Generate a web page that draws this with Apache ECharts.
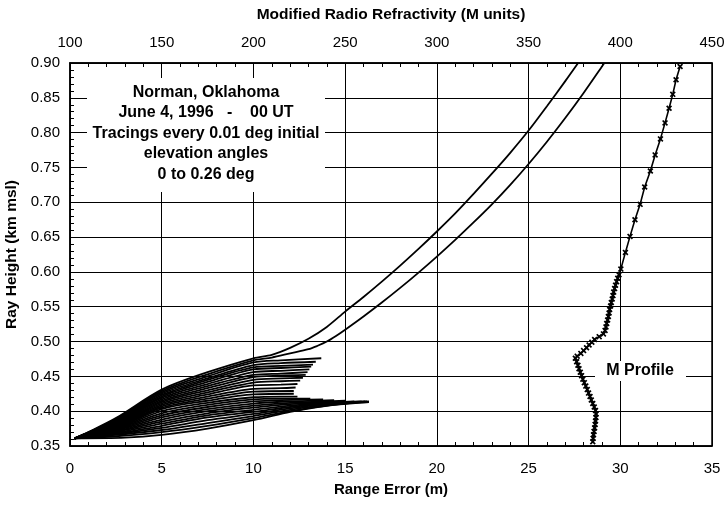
<!DOCTYPE html>
<html>
<head>
<meta charset="utf-8">
<script src="https://cdn.jsdelivr.net/npm/echarts@6/dist/echarts.min.js"></script>
<style>
  html, body { margin: 0; padding: 0; background: #fff; }
  #main { width: 725px; height: 505px; }
</style>
</head>
<body>
<div id="main"></div>
<script type="text/javascript">
// ray tracings, [range error (m), ray height (km)], one array per initial elevation (0.00 .. 0.26 deg)
var ray26 = [[0.25,0.361],[1,0.370],[2.5,0.390],[5,0.431],[7.5,0.456],[10,0.476],[11,0.481],[12,0.491],[13,0.504],[14,0.521],[15,0.543],[16,0.564],[17,0.586],[18,0.609],[19,0.633],[20,0.658],[21,0.684],[22,0.712],[23,0.741],[24,0.771],[25,0.803],[26,0.838],[27,0.874],[27.7,0.900]];
var ray25 = [[0.25,0.361],[1,0.369],[2.5,0.389],[5,0.429],[7.5,0.453],[10,0.473],[11,0.477],[12,0.483],[13,0.489],[13.5,0.494],[14,0.500],[14.5,0.508],[15,0.517],[16,0.536],[17,0.556],[18,0.577],[19,0.599],[20,0.622],[21,0.646],[22,0.671],[23,0.697],[24,0.725],[25,0.755],[26,0.787],[27,0.821],[28,0.857],[29,0.895],[29.13,0.900]];
var ray24 = [[0.25,0.361],[2.5,0.388],[5,0.427],[7.5,0.450],[10,0.470],[11.5,0.473],[13.7,0.476]];
var ray23 = [[0.25,0.361],[2.5,0.387],[5,0.425],[7.5,0.447],[10,0.466],[11.5,0.469],[13.4,0.471]];
var ray22 = [[0.25,0.361],[2.5,0.386],[5,0.423],[7.5,0.445],[10,0.463],[11.5,0.465],[13.25,0.467]];
var ray21 = [[0.25,0.361],[2.5,0.385],[5,0.421],[7.5,0.442],[10,0.460],[11.5,0.462],[13.15,0.464]];
var ray20 = [[0.25,0.361],[2.5,0.384],[5,0.419],[7.5,0.439],[10,0.456],[11.5,0.458],[13.05,0.460]];
var ray19 = [[0.25,0.361],[2.5,0.383],[5,0.417],[7.5,0.436],[10,0.452],[11.5,0.454],[12.95,0.456]];
var ray18 = [[0.25,0.361],[2.5,0.382],[5,0.415],[7.5,0.433],[10,0.449],[11.5,0.451],[12.85,0.452]];
var ray17 = [[0.25,0.361],[2.5,0.381],[5,0.413],[7.5,0.430],[10,0.445],[11.5,0.447],[12.7,0.448]];
var ray16 = [[0.25,0.361],[2.5,0.380],[5,0.411],[7.5,0.427],[10,0.441],[11.5,0.443],[12.55,0.444]];
var ray15 = [[0.25,0.361],[2.5,0.379],[5,0.409],[7.5,0.424],[10,0.437],[11.5,0.438],[12.4,0.439]];
var ray14 = [[0.25,0.361],[2.5,0.378],[5,0.407],[7.5,0.421],[10,0.432],[11.5,0.433],[12.3,0.434]];
var ray13 = [[0.25,0.361],[2.5,0.377],[5,0.405],[7.5,0.418],[10,0.428],[12.2,0.429]];
var ray12 = [[0.25,0.361],[2.5,0.376],[5,0.403],[7.5,0.415],[10,0.424],[12.2,0.425]];
var ray11 = [[0.25,0.361],[2.5,0.375],[5,0.400],[7.5,0.412],[10,0.420],[11.5,0.421],[12.4,0.421]];
var ray10 = [[0.25,0.361],[2.5,0.374],[5,0.397],[7.5,0.409],[10,0.417],[11.5,0.418],[13.1,0.418]];
var ray09 = [[0.25,0.361],[2.5,0.373],[5,0.394],[7.5,0.406],[10,0.414],[11.5,0.416],[13.8,0.417]];
var ray08 = [[0.25,0.361],[2.5,0.372],[5,0.391],[7.5,0.403],[10,0.411],[12,0.414],[14.4,0.416]];
var ray07 = [[0.25,0.361],[2.5,0.371],[5,0.388],[7.5,0.400],[10,0.408],[12,0.412],[15,0.415]];
var ray06 = [[0.25,0.361],[2.5,0.370],[5,0.385],[7.5,0.397],[10,0.405],[12,0.410],[15.5,0.414]];
var ray05 = [[0.25,0.361],[2.5,0.369],[5,0.382],[7.5,0.394],[10,0.402],[12,0.408],[14,0.412],[15.9,0.414]];
var ray04 = [[0.25,0.361],[2.5,0.368],[5,0.379],[7.5,0.391],[10,0.399],[12,0.406],[14,0.411],[16.1,0.414]];
var ray03 = [[0.25,0.361],[2.5,0.367],[5,0.376],[7.5,0.387],[10,0.396],[12,0.404],[14,0.410],[16.2,0.414]];
var ray02 = [[0.25,0.361],[2.5,0.366],[5,0.373],[7.5,0.383],[10,0.393],[12,0.402],[14,0.409],[16.3,0.414]];
var ray01 = [[0.25,0.361],[2.5,0.364],[5,0.370],[7.5,0.379],[10,0.390],[12,0.400],[14,0.408],[16.3,0.413]];
var ray00 = [[0.25,0.361],[3,0.362],[5,0.366],[7.5,0.375],[10,0.387],[12,0.399],[13.5,0.406],[15,0.411],[16.3,0.413]];

var rays = [ray00, ray01, ray02, ray03, ray04, ray05, ray06, ray07, ray08, ray09, ray10, ray11, ray12,
            ray13, ray14, ray15, ray16, ray17, ray18, ray19, ray20, ray21, ray22, ray23, ray24, ray25, ray26];

// M profile (modified refractivity vs height)
var profileM = [385.0, 385.2, 385.4, 385.7, 386.0, 386.3, 386.5, 386.7, 386.8, 386.5, 385.8, 385.0, 384.2, 383.5,
                382.7, 382.0, 381.2, 380.4, 379.6, 378.9, 378.2, 377.5, 376.9, 376.2, 375.5, 376.5, 378.5, 380.0,
                381.6, 383.0, 384.5, 386.0, 388.5, 390.8, 391.7, 392.2, 392.6, 393.1, 393.5, 393.9, 394.2, 394.7,
                395.1, 395.6, 396.0, 396.4, 396.9, 397.4, 398.0, 398.6, 399.3, 400.3, 402.8, 405.3, 408.0, 410.8,
                413.3, 416.4, 419.0, 421.9, 424.4, 426.6, 428.6, 430.4, 432.6];
var profileH = [0.356, 0.361, 0.366, 0.371, 0.376, 0.381, 0.386, 0.391, 0.396, 0.401, 0.406, 0.411, 0.416, 0.421,
                0.426, 0.431, 0.436, 0.441, 0.446, 0.451, 0.456, 0.461, 0.466, 0.471, 0.476, 0.479, 0.483, 0.487,
                0.491, 0.495, 0.499, 0.503, 0.507, 0.511, 0.516, 0.521, 0.526, 0.531, 0.536, 0.541, 0.546, 0.551,
                0.556, 0.561, 0.566, 0.571, 0.576, 0.581, 0.586, 0.591, 0.596, 0.604, 0.628, 0.651, 0.675, 0.697,
                0.722, 0.745, 0.768, 0.791, 0.814, 0.835, 0.855, 0.876, 0.895];

var noteLines = ['Norman, Oklahoma', 'June 4, 1996   -    00 UT', 'Tracings every 0.01 deg initial',
                 'elevation angles', '0 to 0.26 deg'];

var FONT = '"Liberation Sans", Arial, Helvetica, sans-serif';
var myChart = echarts.init(document.getElementById('main'));

var series = [];
for (var i = 0; i < rays.length; i++) {
    series.push({
        type: 'line',
        xAxisIndex: 0,
        yAxisIndex: 0,
        data: rays[i],
        smooth: 0.3,
        showSymbol: false,
        lineStyle: { color: '#000', width: 1.8 },
        silent: true,
        z: 3
    });
}
var profile = [];
for (var j = 0; j < profileM.length; j++) {
    profile.push([profileM[j], profileH[j]]);
}
series.push({
    type: 'line',
    xAxisIndex: 1,
    yAxisIndex: 0,
    data: profile,
    symbol: 'path://M0,2L2,0L5,3L8,0L10,2L7,5L10,8L8,10L5,7L2,10L0,8L3,5Z',
    symbolSize: 6,
    showAllSymbol: true,
    itemStyle: { color: '#000' },
    lineStyle: { color: '#000', width: 1.6 },
    z: 4
});

var option = {
    animation: false,
    backgroundColor: '#fff',
    textStyle: { fontFamily: FONT },
    grid: {
        left: 70, right: 13, top: 63, bottom: 59,
        containLabel: false, outerBoundsMode: 'none',
        show: true, borderColor: '#000', borderWidth: 1.5
    },
    xAxis: [{
        type: 'value', position: 'bottom',
        min: 0, max: 35, interval: 5,
        name: 'Range Error (m)', nameLocation: 'middle', nameGap: 36,
        nameTextStyle: { color: '#000', fontWeight: 'bold', fontSize: 15, fontFamily: FONT },
        axisLine: { lineStyle: { color: '#000', width: 1.5 } },
        axisTick: { inside: true, length: 6, lineStyle: { color: '#000' } },
        minorTick: { show: true, splitNumber: 5, length: 4, lineStyle: { color: '#000' } },
        axisLabel: { color: '#000', fontSize: 15, margin: 15, fontFamily: FONT },
        splitLine: { show: true, lineStyle: { color: '#000', width: 1 } }
    }, {
        type: 'value', position: 'top',
        min: 100, max: 450, interval: 50,
        name: 'Modified Radio Refractivity (M units)', nameLocation: 'middle', nameGap: 40,
        nameTextStyle: { color: '#000', fontWeight: 'bold', fontSize: 15.5, fontFamily: FONT },
        axisLine: { lineStyle: { color: '#000', width: 1.5 } },
        axisTick: { inside: true, length: 6, lineStyle: { color: '#000' } },
        minorTick: { show: true, splitNumber: 5, length: 4, lineStyle: { color: '#000' } },
        axisLabel: { color: '#000', fontSize: 15, margin: 13, fontFamily: FONT },
        splitLine: { show: false }
    }],
    yAxis: [{
        type: 'value',
        min: 0.35, max: 0.90, interval: 0.05,
        name: 'Ray Height (km msl)', nameLocation: 'middle', nameGap: 28,
        nameTextStyle: { color: '#000', fontWeight: 'bold', fontSize: 15.5, fontFamily: FONT },
        axisLine: { show: true, lineStyle: { color: '#000', width: 1.5 } },
        axisTick: { show: true, inside: true, length: 6, lineStyle: { color: '#000' } },
        minorTick: { show: true, splitNumber: 5, length: 4, lineStyle: { color: '#000' } },
        axisLabel: {
            color: '#000', fontSize: 15, margin: 10, fontFamily: FONT,
            formatter: function (v) { return v.toFixed(2); }
        },
        splitLine: { show: true, lineStyle: { color: '#000', width: 1 } }
    }],
    graphic: [{
        type: 'rect', left: 87, top: 78, z: 100,
        shape: { width: 238, height: 114 },
        style: { fill: '#fff' }
    }, {
        type: 'text', x: 206, y: 82, z: 101,
        style: {
            text: noteLines.join('\n'),
            textAlign: 'center', textVerticalAlign: 'top',
            font: 'bold 16px ' + FONT, lineHeight: 20.5, fill: '#000'
        }
    }, {
        type: 'rect', left: 595, top: 361, z: 100,
        shape: { width: 91, height: 20 },
        style: { fill: '#fff' }
    }, {
        type: 'text', x: 640, y: 371, z: 101,
        style: {
            text: 'M Profile',
            textAlign: 'center', textVerticalAlign: 'middle',
            font: 'bold 16px ' + FONT, fill: '#000'
        }
    }],
    series: series
};

myChart.setOption(option);
</script>
</body>
</html>
